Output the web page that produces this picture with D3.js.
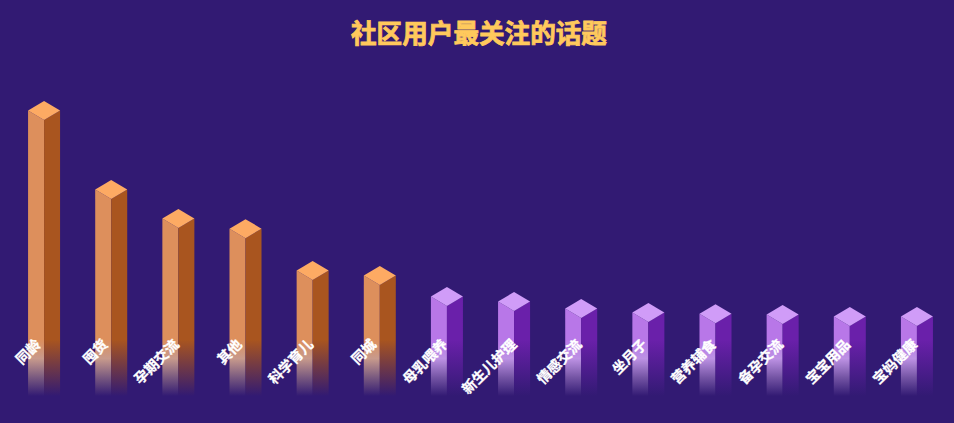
<!DOCTYPE html>
<html>
<head>
<meta charset="utf-8">
<script src="https://cdn.jsdelivr.net/npm/d3@7"></script>
<style>
  html, body { margin: 0; padding: 0; background: #321a73; }
  svg { display: block; }
  text { font-family: "Noto Sans CJK SC", sans-serif; }
</style>
</head>
<body>
<div id="chart"></div>
<script>
const categories = ["同龄", "囤货", "孕期交流", "其他", "科学育儿", "同城", "母乳喂养",
  "新生儿护理", "情感交流", "坐月子", "营养辅食", "备孕交流", "宝宝用品", "宝妈健康"];
const values = [100, 71.4, 60.9, 57.2, 42, 40.2, 32.6, 30.8, 28.3, 26.8, 26.4, 26.1, 25.4, 25.4];
const hotCount = 6;

const width = 954;
const height = 423;
const margin = { top: 120, right: 3.5, bottom: 27, left: 10.5 };
const barWidth = 32;
const bg = "#321a73";

const palettes = {
  hot: { top: "#fdaa63", left: "#dd8f5c", mid: "#c89a8c", low: "#7a5a80", right: "#a9551f" },
  cool: { top: "#d09cf8", left: "#b877e8", mid: "#bd92e4", low: "#7555a5", right: "#6a20aa" },
};

const svg = d3.select("#chart").append("svg")
  .attr("width", width)
  .attr("height", height)
  .style("background", bg);

const x = d3.scaleBand()
  .domain(categories)
  .range([margin.left, width - margin.right]);

const y = d3.scaleLinear()
  .domain([0, 100])
  .range([height - margin.bottom, margin.top]);

// Faces melt into the background near the axis
const defs = svg.append("defs");
const addGradient = (id, stops) => {
  const g = defs.append("linearGradient")
    .attr("id", id)
    .attr("gradientUnits", "userSpaceOnUse")
    .attr("x1", 0).attr("x2", 0)
    .attr("y1", y(0) - 75).attr("y2", y(0));
  stops.forEach(([offset, color]) => {
    g.append("stop").attr("offset", offset).attr("stop-color", color);
  });
};
Object.entries(palettes).forEach(([name, p]) => {
  addGradient(`${name}-left`, [[0, p.left], [0.25, p.left], [0.5, p.mid], [0.75, p.low], [1, bg]]);
  addGradient(`${name}-right`, [[0, p.right], [0.25, p.right], [1, bg]]);
});

const group = (i) => (i < hotCount ? "hot" : "cool");
const face = (points) => d3.line()(points) + "Z";

const bars = svg.selectAll(".bar")
  .data(values)
  .enter()
  .append("g")
  .attr("class", "bar");

const cx = (i) => x(categories[i]) + x.bandwidth() / 2;
const half = barWidth / 2;
const rise = 9.5;

bars.append("path")
  .attr("fill", (d, i) => `url(#${group(i)}-left)`)
  .attr("d", (d, i) => face([
    [cx(i) - half, y(d) - rise], [cx(i), y(d)], [cx(i), y(0)], [cx(i) - half, y(0)],
  ]));

bars.append("path")
  .attr("fill", (d, i) => `url(#${group(i)}-right)`)
  .attr("d", (d, i) => face([
    [cx(i), y(d)], [cx(i) + half, y(d) - rise], [cx(i) + half, y(0)], [cx(i), y(0)],
  ]));

bars.append("path")
  .attr("fill", (d, i) => palettes[group(i)].top)
  .attr("d", (d, i) => face([
    [cx(i), y(d)], [cx(i) - half, y(d) - rise], [cx(i), y(d) - 2 * rise], [cx(i) + half, y(d) - rise],
  ]));

// Labels sit on top of the bars, above the fade
const axis = svg.append("g")
  .attr("transform", "translate(0,342)")
  .call(d3.axisBottom(x).tickSize(0));

axis.select(".domain").remove();
axis.selectAll("text")
  // longer labels drift right, shorter ones left
  .attr("transform", (d) => `translate(${2 * (d.length - 4) - 2},0) rotate(-45)`)
  .attr("text-anchor", "end")
  .attr("dy", "0.35em")
  .attr("y", 0)
  .attr("x", 0)
  .attr("fill", "#fff")
  .attr("stroke", "#fff")
  .attr("stroke-width", 0.3)
  .style("font-family", '"Noto Sans CJK SC", sans-serif')
  .style("font-size", "14px")
  .style("font-weight", 700);

svg.append("text")
  .attr("x", 479)
  .attr("y", 43)
  .attr("text-anchor", "middle")
  .attr("fill", "#ffc95c")
  .attr("stroke", "#ffc95c")
  .attr("stroke-width", 0.8)
  .style("font-size", "25.6px")
  .style("font-weight", 700)
  .text("社区用户最关注的话题");
</script>
</body>
</html>
